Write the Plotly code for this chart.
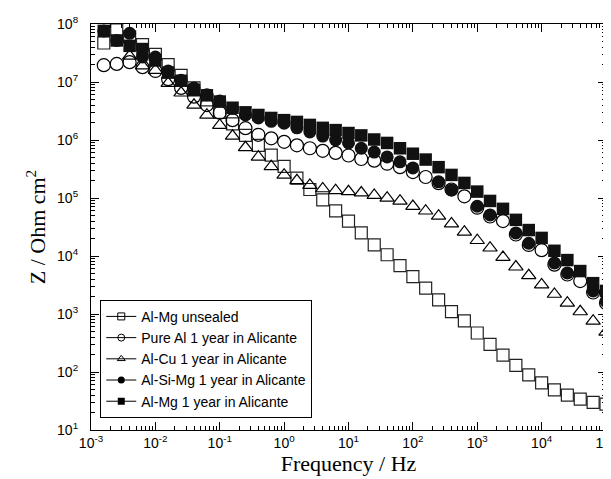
import plotly.graph_objects as go

# Frequencies (Hz): 5 points per decade, 10^-2.8 ... 10^5
freq = [1.58e-3, 2.51e-3, 3.98e-3, 6.31e-3, 1.0e-2, 1.58e-2, 2.51e-2, 3.98e-2, 6.31e-2, 1.0e-1,
        1.58e-1, 2.51e-1, 3.98e-1, 6.31e-1, 1.0e0, 1.58e0, 2.51e0, 3.98e0, 6.31e0, 1.0e1,
        1.58e1, 2.51e1, 3.98e1, 6.31e1, 1.0e2, 1.58e2, 2.51e2, 3.98e2, 6.31e2, 1.0e3,
        1.58e3, 2.51e3, 3.98e3, 6.31e3, 1.0e4, 1.58e4, 2.51e4, 3.98e4, 6.31e4, 1.0e5]

z_almg_unsealed = [4.7e7, 7.9e7, 6.0e7, 4.4e7, 3.0e7, 2.0e7, 1.3e7, 7.9e6, 4.9e6, 3.0e6,
                   1.9e6, 1.2e6, 8.1e5, 5.5e5, 3.5e5, 2.2e5, 1.4e5, 9.3e4, 6.0e4, 4.0e4,
                   2.5e4, 1.55e4, 1.05e4, 6.8e3, 4.4e3, 2.8e3, 1.75e3, 1.1e3, 7.6e2, 4.7e2,
                   3.0e2, 1.95e2, 1.3e2, 89, 65, 49, 40, 34, 30, 28]

z_pure_al = [1.95e7, 2.05e7, 2.2e7, 1.8e7, 1.55e7, 1.12e7, 7.9e6, 5.6e6, 4.0e6, 2.95e6,
             2.2e6, 1.6e6, 1.23e6, 1.07e6, 9.3e5, 8.1e5, 7.2e5, 6.5e5, 6.0e5, 5.4e5,
             4.7e5, 4.4e5, 3.9e5, 3.4e5, 2.8e5, 2.3e5, 1.8e5, 1.4e5, 1.07e5, 6.8e4,
             4.8e4, 4.0e4, 2.35e4, 1.55e4, 1.26e4, 7.1e3, 4.8e3, 3.7e3, 2.35e3, 1.55e3]

z_alcu = [None, None, 2.8e7, 1.9e7, 1.6e7, 9.5e6, 6.5e6, 4.0e6, 2.7e6, 1.8e6,
          1.17e6, 7.4e5, 5.1e5, 3.5e5, 2.5e5, 2.0e5, 1.66e5, 1.45e5, 1.35e5, 1.29e5,
          1.23e5, 1.12e5, 1.0e5, 8.9e4, 7.2e4, 6.0e4, 4.9e4, 3.6e4, 2.6e4, 1.86e4,
          1.38e4, 9.5e3, 6.5e3, 4.6e3, 3.2e3, 2.2e3, 1.55e3, 1.1e3, 7.6e2, 4.9e2]

z_alsimg = [7.6e7, 5.2e7, 6.9e7, 2.7e7, 2.7e7, 1.55e7, 1.07e7, 7.9e6, 6.0e6, 4.7e6,
            3.5e6, 2.7e6, 2.4e6, 2.1e6, 1.95e6, 1.62e6, 1.38e6, 1.17e6, 1.0e6, 8.9e5,
            7.2e5, 6.2e5, 5.1e5, 4.2e5, 3.3e5, None, 1.9e5, 1.38e5, None, 7.2e4,
            5.1e4, None, 2.5e4, 1.66e4, None, 7.6e3, 5.1e3, None, 2.5e3, 1.66e3]

z_almg_1y = [7.6e7, 5.2e7, 4.2e7, 3.7e7, 2.35e7, 1.45e7, 1.05e7, 7.2e6, 5.9e6, 4.6e6,
             3.6e6, 3.0e6, 2.7e6, 2.4e6, 2.2e6, 2.05e6, 1.82e6, 1.62e6, 1.48e6, 1.32e6,
             1.2e6, 1.02e6, 8.9e5, 7.2e5, 5.8e5, 4.6e5, 3.4e5, 2.5e5, 1.82e5, 1.29e5,
             8.9e4, 6.5e4, 4.2e4, 2.8e4, 2.05e4, 1.23e4, 8.5e3, 5.5e3, 3.4e3, 2.5e3]

series_names = ["Al-Mg unsealed", "Pure Al 1 year in Alicante", "Al-Cu 1 year in Alicante",
                "Al-Si-Mg 1 year in Alicante", "Al-Mg 1 year in Alicante"]

x_tickvals = [1e-3, 1e-2, 1e-1, 1e0, 1e1, 1e2, 1e3, 1e4, 1e5]
x_ticktext = ["10<sup>-3</sup>", "10<sup>-2</sup>", "10<sup>-1</sup>", "10<sup>0</sup>",
              "10<sup>1</sup>", "10<sup>2</sup>", "10<sup>3</sup>", "10<sup>4</sup>", "10<sup>5</sup>"]
y_tickvals = [1e1, 1e2, 1e3, 1e4, 1e5, 1e6, 1e7, 1e8]
y_ticktext = ["10<sup>1</sup>", "10<sup>2</sup>", "10<sup>3</sup>", "10<sup>4</sup>",
              "10<sup>5</sup>", "10<sup>6</sup>", "10<sup>7</sup>", "10<sup>8</sup>"]

styles = [
    dict(symbol="square-open", size=12, color="#222", line=dict(width=1.2, color="#222")),
    dict(symbol="circle-open", size=13, color="black", line=dict(width=1.2, color="black")),
    dict(symbol="triangle-up-open", size=12.5, color="black", line=dict(width=1.2, color="black")),
    dict(symbol="circle", size=13, color="#111", line=dict(width=0)),
    dict(symbol="square", size=12.5, color="#111", line=dict(width=0)),
]
legend_styles = [
    dict(symbol="square-open", size=7, color="black", line=dict(width=1, color="black")),
    dict(symbol="circle-open", size=7, color="black", line=dict(width=1, color="black")),
    dict(symbol="triangle-up-open", size=7, color="black", line=dict(width=1, color="black")),
    dict(symbol="circle", size=7, color="black", line=dict(width=0)),
    dict(symbol="square", size=7, color="black", line=dict(width=0)),
]
data = [z_almg_unsealed, z_pure_al, z_alcu, z_alsimg, z_almg_1y]

fig = go.Figure()
for name, ys, st in zip(series_names, data, styles):
    fig.add_trace(go.Scatter(x=freq, y=ys, mode="markers", marker=st, name=name,
                             showlegend=False, cliponaxis=True))
for name, st in zip(series_names, legend_styles):
    fig.add_trace(go.Scatter(x=[None], y=[None], mode="lines+markers", marker=st,
                             line=dict(color="black", width=1), name=name, showlegend=True))

minor_x = [m * 10 ** e for e in range(-3, 5) for m in range(2, 10)]
minor_y = [m * 10 ** e for e in range(1, 8) for m in range(2, 10)]

axis_common = dict(
    type="log", showline=True, linecolor="black", linewidth=1.2, mirror="allticks",
    ticks="inside", ticklen=8, tickwidth=1, tickcolor="black", showgrid=False, zeroline=False,
    tickfont=dict(family="Liberation Sans, Arial", size=14, color="black"),
    automargin=False,
)

fig.update_xaxes(
    **axis_common, range=[-3, 5], tickmode="array", tickvals=x_tickvals, ticktext=x_ticktext,
    ticklabelstandoff=0,
    minor=dict(tickmode="array", tickvals=minor_x, ticks="inside", ticklen=4, tickcolor="black", showgrid=False),
    title=dict(text="Frequency / Hz", font=dict(family="Liberation Serif, Times New Roman", size=22, color="black"), standoff=4),
)
fig.update_yaxes(
    **axis_common, range=[1, 8], tickmode="array", tickvals=y_tickvals, ticktext=y_ticktext,
    ticklabelstandoff=9,
    minor=dict(tickmode="array", tickvals=minor_y, ticks="inside", ticklen=4, tickcolor="black", showgrid=False),
    title=dict(text="Z / Ohm cm<sup>2</sup>", font=dict(family="Liberation Serif, Times New Roman", size=22, color="black"), standoff=5),
)

fig.update_layout(
    width=611, height=479,
    margin=dict(l=83, r=13, t=16, b=57),
    paper_bgcolor="white", plot_bgcolor="white",
    showlegend=True,
    legend=dict(x=0.018, y=0.03, xanchor="left", yanchor="bottom",
                bgcolor="white", bordercolor="black", borderwidth=1,
                font=dict(family="Liberation Sans, Arial", size=14, color="black"),
                tracegroupgap=0, itemsizing="trace"),
)

fig.write_html("out.html")
